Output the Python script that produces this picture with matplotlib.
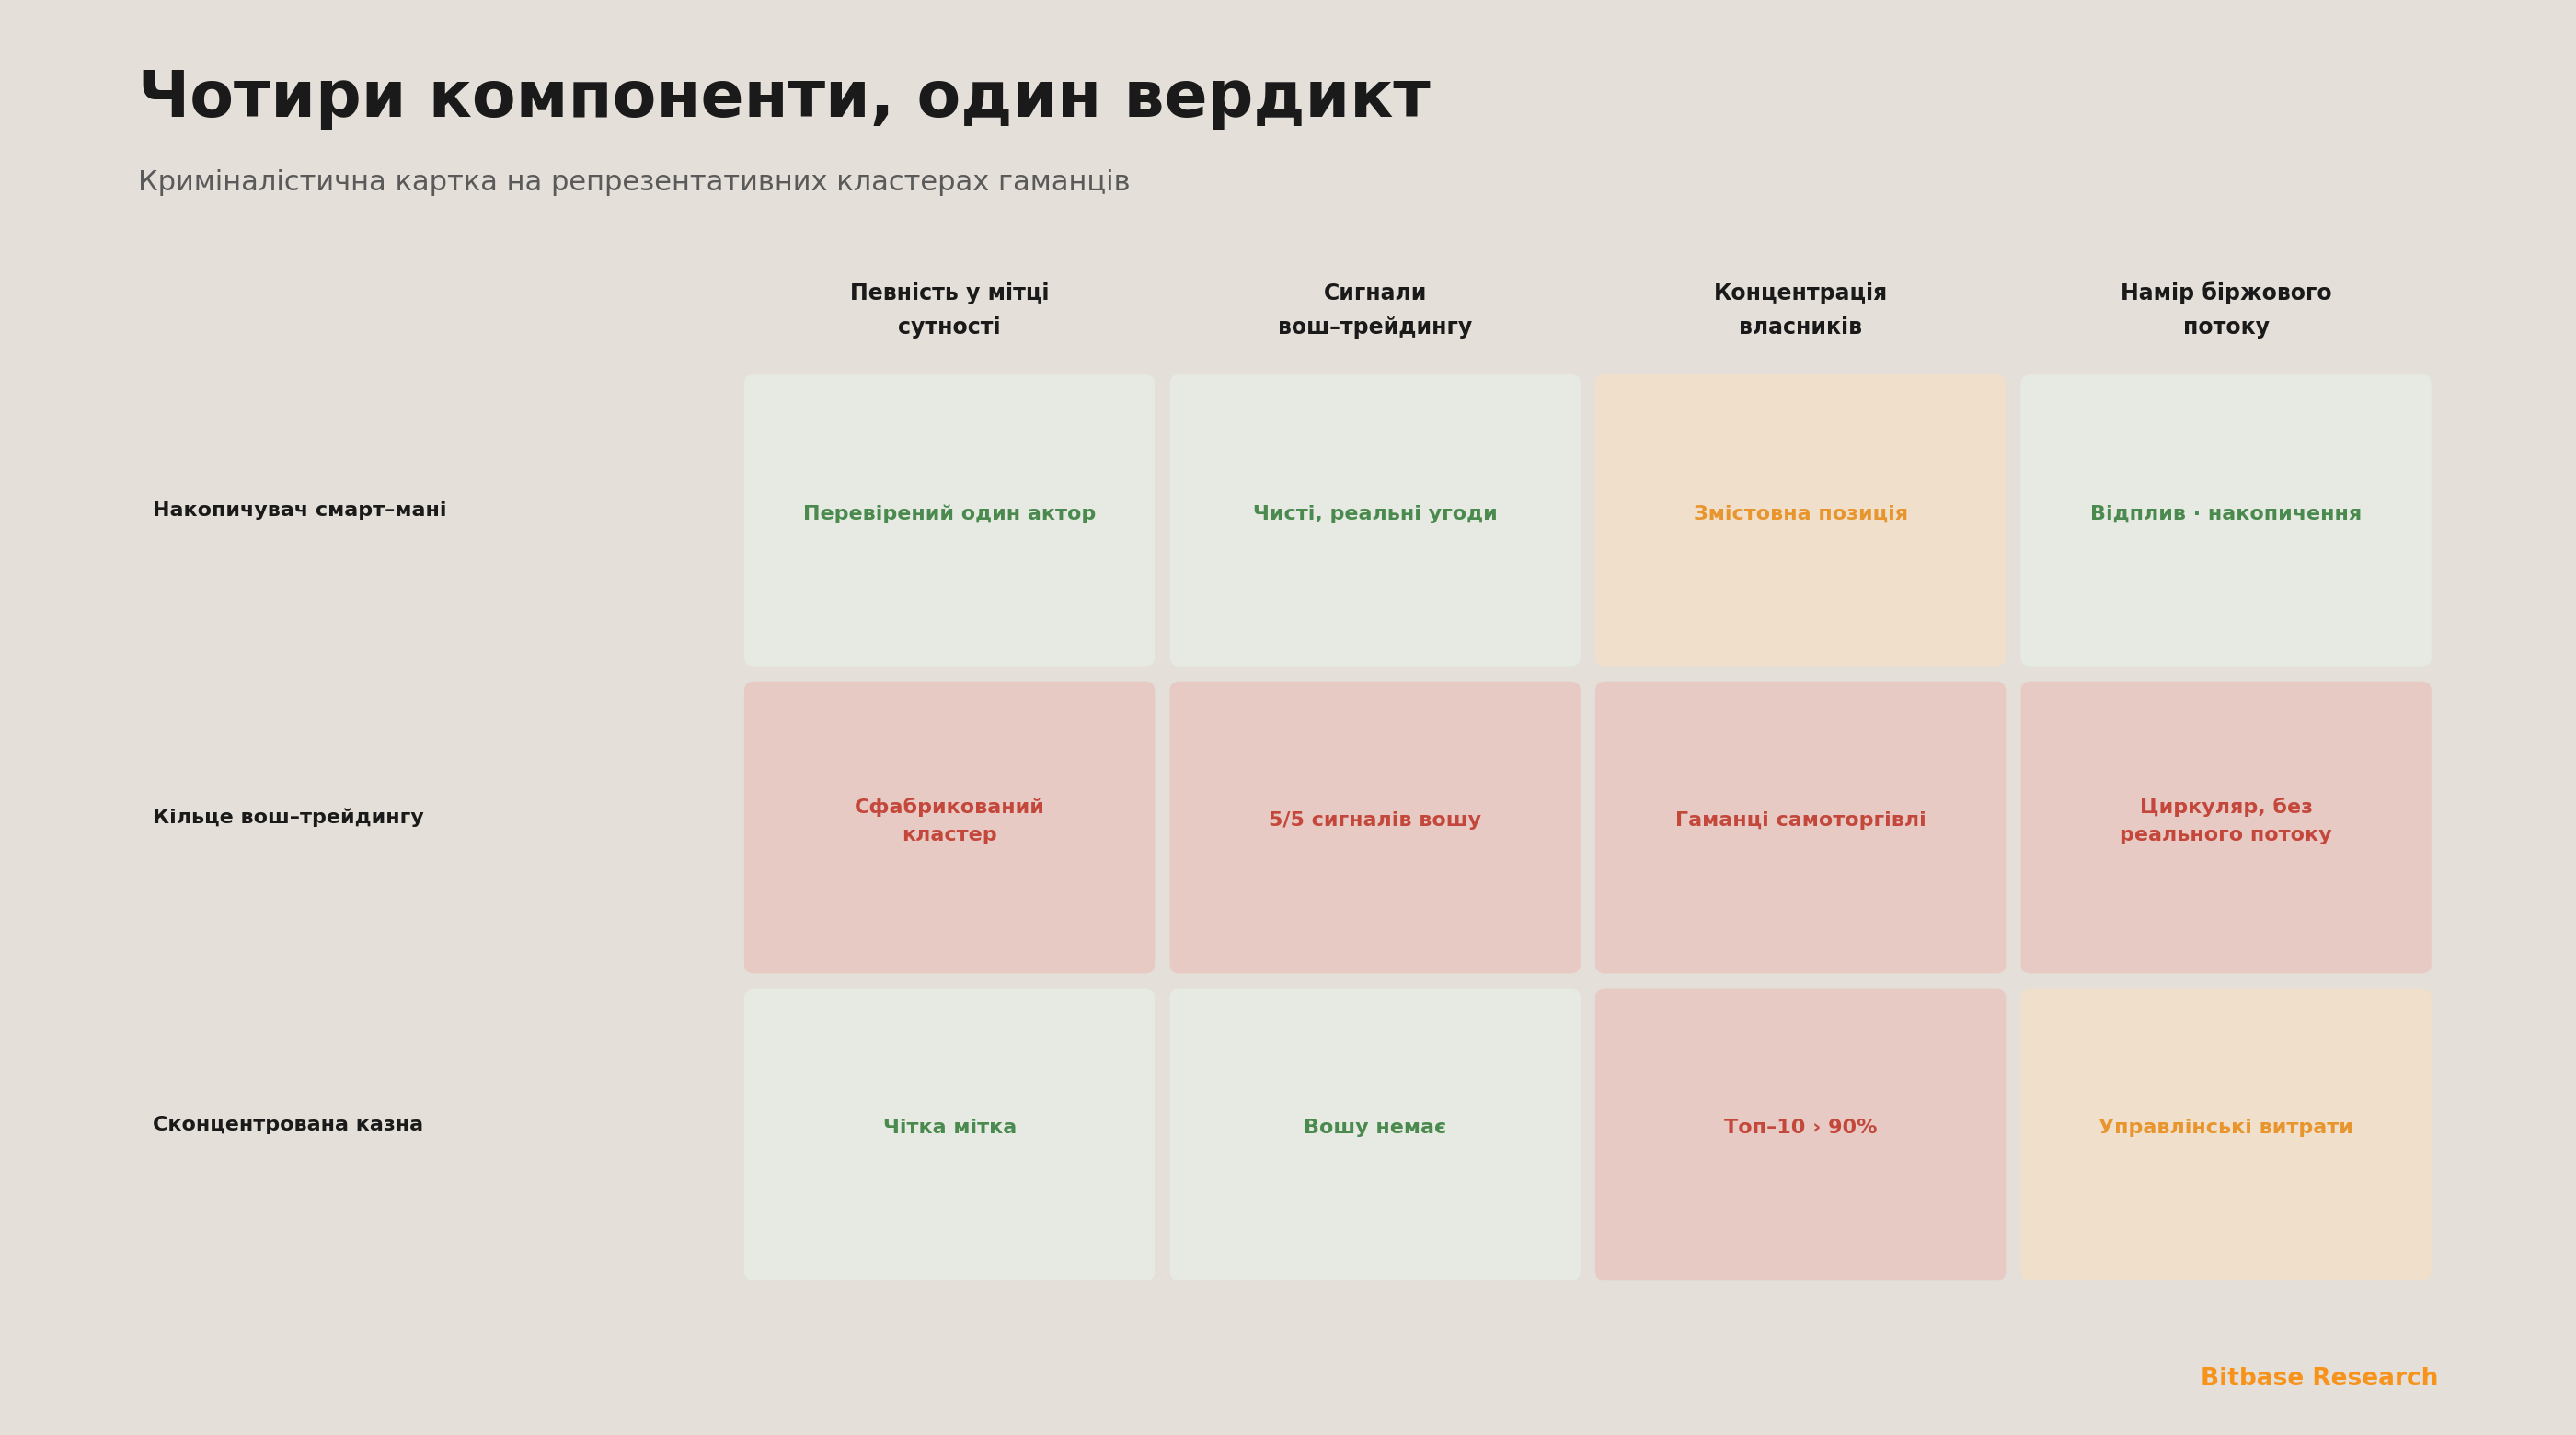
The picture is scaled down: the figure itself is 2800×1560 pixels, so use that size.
import matplotlib.pyplot as plt
from matplotlib.patches import FancyBboxPatch

plt.rcParams['font.family'] = ['DejaVu Sans']

# ---- data ----
TITLE = "Чотири компоненти, один вердикт"
SUBTITLE = "Криміналістична картка на репрезентативних кластерах гаманців"
columns = ["Певність у мітці\nсутності", "Сигнали\nвош–трейдингу",
           "Концентрація\nвласників", "Намір біржового\nпотоку"]
rows = ["Накопичувач смарт–мані", "Кільце вош–трейдингу", "Сконцентрована казна"]
cell_text = [
    ["Перевірений один актор", "Чисті, реальні угоди", "Змістовна позиція", "Відплив · накопичення"],
    ["Сфабрикований\nкластер", "5/5 сигналів вошу", "Гаманці самоторгівлі", "Циркуляр, без\nреального потоку"],
    ["Чітка мітка", "Вошу немає", "Топ–10 › 90%", "Управлінські витрати"],
]
cell_status = [
    ["good", "good", "warn", "good"],
    ["bad", "bad", "bad", "bad"],
    ["good", "good", "bad", "warn"],
]

# ---- style ----
BG = "#E4DFD9"
PALETTE = {
    "good": ("#E6EAE2", "#4A8A4E"),
    "warn": ("#EFDFCB", "#E8952E"),
    "bad": ("#E8CAC4", "#C4473B"),
}
W, H = 1568, 874
col_x0, col_w, col_gap = 453, 250, 9
row_y0, row_h, row_gap = 228, 178, 9

fig = plt.figure(figsize=(28, 15.6), dpi=100, facecolor=BG)
ax = fig.add_axes([0, 0, 1, 1])
ax.set_xlim(0, W)
ax.set_ylim(H, 0)
ax.axis("off")
ax.set_facecolor(BG)

ax.text(84, 60, TITLE, fontsize=50, fontweight="bold", color="#1A1A1A", va="center", ha="left")
ax.text(84, 111, SUBTITLE, fontsize=22, color="#5A5A5A", va="center", ha="left")

for j, col in enumerate(columns):
    cx = col_x0 + j * (col_w + col_gap) + col_w / 2
    ax.text(cx, 189, col, fontsize=17, fontweight="bold", color="#1A1A1A",
            ha="center", va="center", linespacing=1.7)

for i, row in enumerate(rows):
    y = row_y0 + i * (row_h + row_gap)
    ax.text(93, y + row_h / 2 - 6, row, fontsize=16, fontweight="bold", color="#1A1A1A",
            ha="left", va="center")
    for j in range(len(columns)):
        x = col_x0 + j * (col_w + col_gap)
        fc, tc = PALETTE[cell_status[i][j]]
        ax.add_patch(FancyBboxPatch((x, y), col_w, row_h,
                                    boxstyle="round,pad=0,rounding_size=6",
                                    fc=fc, ec="none"))
        ax.text(x + col_w / 2, y + row_h / 2 - 4, cell_text[i][j], fontsize=16,
                fontweight="bold", color=tc, ha="center", va="center", linespacing=1.6)

ax.text(1484, 840, "Bitbase Research", fontsize=19, fontweight="bold",
        color="#F7931A", ha="right", va="center")

fig.savefig("out.png", dpi=100, facecolor=BG)
